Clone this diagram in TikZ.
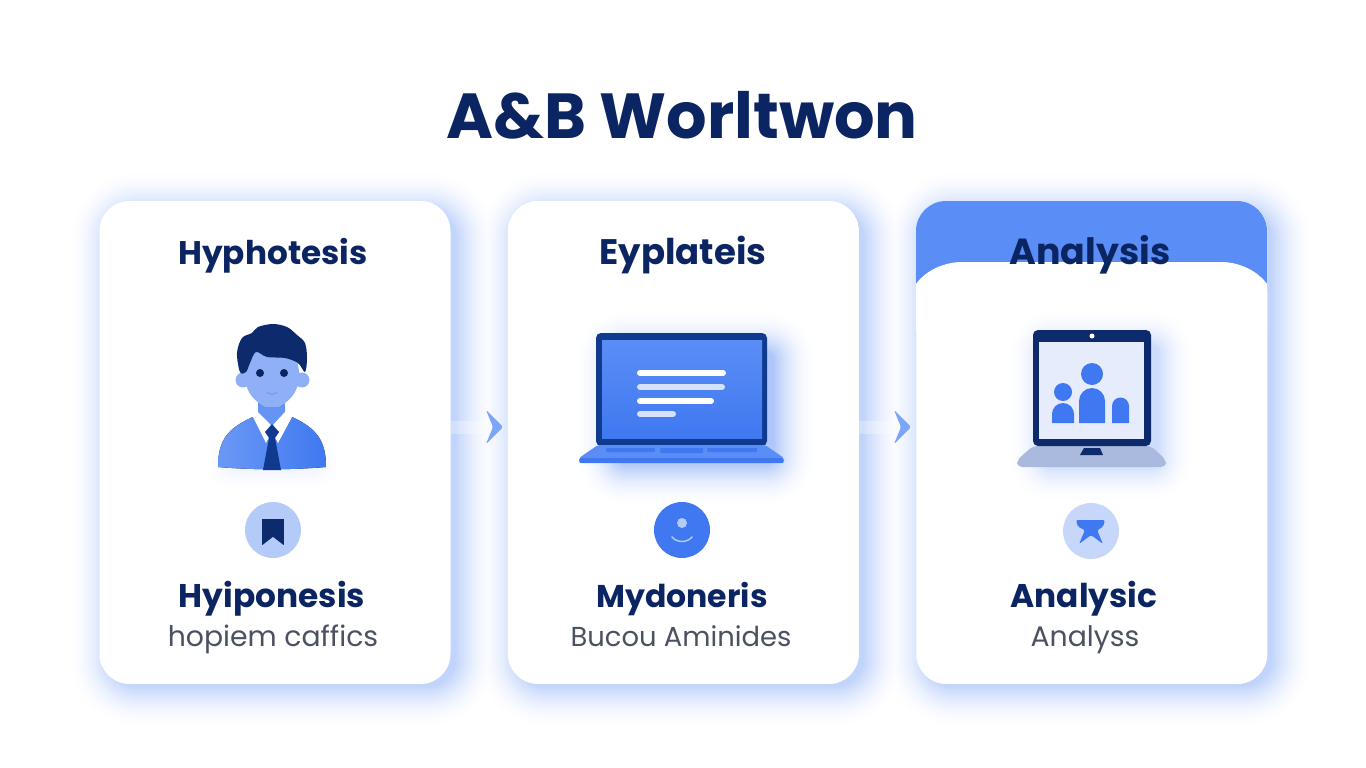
\documentclass[tikz,border=0pt]{standalone}
\usepackage{fontspec}
\setmainfont{Poppins}
\usetikzlibrary{positioning,calc}
\definecolor{inkNavy}{HTML}{0B2462}
\definecolor{hairNavy}{HTML}{0C2A6C}
\definecolor{deepBlue}{HTML}{0F3A8E}
\definecolor{midBlue}{HTML}{3F78F0}
\definecolor{softBlue}{HTML}{5B8DF6}
\definecolor{faceBlue}{HTML}{8FAFF7}
\definecolor{paleBlue}{HTML}{B4CAF8}
\definecolor{mistBlue}{HTML}{E6ECFB}
\definecolor{subGrey}{HTML}{4C5162}
\tikzset{
  cardbox/.style={fill=white,rounded corners=30pt,inner sep=0pt,minimum width=351pt,minimum height=483pt},
  headtext/.style={font=\bfseries\fontsize{32.7}{36}\selectfont,text=inkNavy,inner sep=0pt,anchor=base},
  nametext/.style={font=\bfseries\fontsize{32.8}{36}\selectfont,text=inkNavy,inner sep=0pt,anchor=base},
  subtext/.style={font=\fontsize{28.3}{32}\selectfont,text=subGrey,inner sep=0pt,anchor=base},
  badge/.style={circle,inner sep=0pt,minimum size=56pt},
  flowband/.style={line width=13pt,white,opacity=0.3},
  chevron/.style={fill=softBlue!80!white,rounded corners=1.5pt},
  textline/.style={line width=6pt,line cap=round}
}
% nested solid boxes fading to white: colour, x1, y1, x2, y2, radius, spread, strength
\newcommand{\softglow}[8]{
  \foreach \layer in {0,...,27} {
    \pgfmathsetmacro\grow{#7*(1-\layer/27)}
    \pgfmathsetmacro\bend{#6+\grow}
    \pgfmathsetmacro\tint{#8*(\layer/27)^2}
    \fill[#1!\tint!white,rounded corners=\bend pt] (#2-\grow,#3-\grow) rectangle (#4+\grow,#5+\grow);
  }
}
\newcommand{\flowchevron}[1]{
  \fill[chevron] ($(#1)+(-8,-17)$) -- ($(#1)+(9,0)$) -- ($(#1)+(-8,17)$) -- ($(#1)+(-1,0)$) -- cycle;
}
\begin{document}
\begin{tikzpicture}[x=1pt,y=-1pt]
\useasboundingbox (0,0) rectangle (1366,768);
\fill[white] (0,0) rectangle (1366,768);

\node[font=\bfseries\fontsize{63.7}{70}\selectfont,text=inkNavy,inner sep=0pt] (title) at (682,115) {A\&B Worltwon};

% shadows first, one level at a time so they merge in the gaps
\foreach \layer in {0,...,27} {
  \pgfmathsetmacro\grow{42*(1-\layer/27)}
  \pgfmathsetmacro\bend{28+\grow}
  \pgfmathsetmacro\tint{38*(\layer/27)^1.8}
  \foreach \shift in {0,408,816} {
    \fill[softBlue!\tint!white,rounded corners=\bend pt] (110+\shift-\grow,212-\grow) rectangle (456+\shift+\grow,686+\grow);
  }
}

\node[cardbox] (card1) at (275,442.5) {};
\node[cardbox,right=57pt of card1] (card2) {};
\node[cardbox,right=57pt of card2] (card3) {};

% arrows between the cards
\coordinate (chev1) at (494,427);
\coordinate (chev2) at (902,427);
\draw[flowband] (card1.east |- chev1) -- (chev1);
\draw[flowband] (card2.east |- chev2) -- (chev2);
\flowchevron{chev1}
\flowchevron{chev2}

% third card, blue top
\fill[softBlue,rounded corners=30pt] (916,201) rectangle (1267,320);
\fill[white] (916,330) -- (916,284) .. controls (926,270) and (945,262) .. (962,262) -- (1221,262) .. controls (1238,262) and (1257,270) .. (1267,284) -- (1267,330) -- cycle;

\node[headtext] (head1) at (273,264) {Hyphotesis};
\node[headtext,font=\bfseries\fontsize{35.5}{36}\selectfont] (head2) at (683,264) {Eyplateis};
\node[headtext,font=\bfseries\fontsize{36.3}{36}\selectfont] (head3) at (1090,264) {Analysis};

% person
\softglow{softBlue}{228}{458}{318}{470}{6}{24}{9}
\fill[faceBlue] (243,380) circle (7.5) (302,380) circle (7.5);
\fill[softBlue!85!faceBlue] (258,400) rectangle (285,414);
\fill[faceBlue] plot[smooth cycle,tension=0.7] coordinates {(245,372) (252,355) (272,345) (292,352) (299,372) (296,390) (285,403) (272,408) (259,403) (248,390)};
\fill[hairNavy] plot[smooth cycle,tension=0.55] coordinates {(240,372) (237,353) (242,338) (252,333) (258,327) (273,324) (287,327) (297,335) (305,343) (307,358) (305,372) (298,363) (285,358) (267,357) (256,352) (250,363) (246,372)};
\fill[inkNavy] (260,373) circle (4) (284,373) circle (4);
\draw[softBlue!70!faceBlue,line width=1pt] (267,392) .. controls (270,395) and (274,395) .. (277,392);
\fill[left color=softBlue!90!white,right color=midBlue] (218,467) .. controls (218,440) and (228,428) .. (253,417) -- (292,417) .. controls (316,428) and (326,440) .. (326,467) .. controls (290,470) and (254,470) .. (218,467) -- cycle;
\fill[softBlue!80!faceBlue] (258,407) -- (285,407) -- (285,413) -- (272,426) -- (258,413) -- cycle;
\fill[white] (253,417) -- (258,412) -- (272,426) -- (285,412) -- (292,417) -- (278,443) -- (272,432) -- (266,443) -- cycle;
\fill[deepBlue] (272,424) -- (279,432) -- (275,438) -- (281,470) -- (263,470) -- (269,438) -- (265,432) -- cycle;

% bookmark badge
\node[badge,fill=paleBlue] (badge1) at (273,530) {};
\fill[hairNavy] (262,519) rectangle (284,545);
\fill[paleBlue] (262,545.5) -- (273,537) -- (284,545.5) -- cycle;

% open laptop
\softglow{midBlue}{618}{352}{774}{464}{8}{44}{42}
\fill[deepBlue,rounded corners=5pt] (596,333) rectangle (767,446);
\fill[top color=softBlue,bottom color=midBlue] (602,340) rectangle (762,438);
\draw[textline,white] (640,373) -- (723,373);
\draw[textline,white!75!softBlue] (640,387) -- (722,387);
\draw[textline,white] (640,401) -- (711,401);
\draw[textline,white!75!softBlue] (640,414) -- (673,414);
\fill[softBlue,rounded corners=2pt] (598,445) -- (765,445) -- (784,458) -- (784,463) -- (579,463) -- (579,458) -- cycle;
\fill[midBlue,rounded corners=1pt] (606,448) rectangle (655,452) (660,448) rectangle (703,453) (707,448) rectangle (757,452);
\fill[midBlue] (580,458) -- (783,458) -- (783,463) -- (580,463) -- cycle;

% face badge
\node[badge,fill=midBlue] (badge2) at (682,530) {};
\fill[paleBlue] (682,523) circle (5);
\draw[paleBlue,line width=1.5pt,line cap=round] (672,537) .. controls (677,543) and (687,543) .. (692,537);

% tablet laptop
\softglow{midBlue}{1045}{345}{1158}{466}{8}{38}{26}
\fill[paleBlue!80!subGrey!90!white,rounded corners=5pt] (1033,446) -- (1151,446) -- (1166,460) -- (1166,467) -- (1017,467) -- (1017,460) -- cycle;
\fill[hairNavy,rounded corners=5pt] (1033,330) rectangle (1151,446);
\fill[mistBlue] (1039,342) rectangle (1144,439);
\fill[white] (1092,336) circle (2.5);
\fill[hairNavy] (1084,448) -- (1100,448) -- (1103,455) -- (1080,455) -- cycle;
\fill[midBlue] (1092,374) circle (11) (1063,392) circle (9);
\fill[midBlue] (1079,423) -- (1079,401) arc[start angle=180,end angle=0,x radius=13,y radius=-13] -- (1105,423) -- cycle;
\fill[midBlue] (1052,423) -- (1052,414) arc[start angle=180,end angle=0,x radius=11,y radius=-11] -- (1074,423) -- cycle;
\fill[midBlue] (1112,423) -- (1112,406) arc[start angle=180,end angle=0,x radius=8.5,y radius=-8.5] -- (1129,423) -- cycle;

% star badge
\node[badge,fill=paleBlue!75!white] (badge3) at (1091,531) {};
\fill[midBlue,rounded corners=2pt] (1076,520) -- (1105,520) -- (1103,527) -- (1097,530) -- (1103,544) -- (1091,535) -- (1079,544) -- (1085,530) -- (1078,527) -- cycle;

\node[nametext] (name1) at (272,607) {Hyiponesis};
\node[nametext,font=\bfseries\fontsize{31.5}{36}\selectfont] (name2) at (682,607) {Mydoneris};
\node[nametext] (name3) at (1084,607) {Analysic};
\node[subtext] (sub1) at (273,646) {hopiem caffics};
\node[subtext,font=\fontsize{27.4}{32}\selectfont] (sub2) at (681,646) {Bucou Aminides};
\node[subtext] (sub3) at (1085,646) {Analyss};
\end{tikzpicture}
\end{document}
